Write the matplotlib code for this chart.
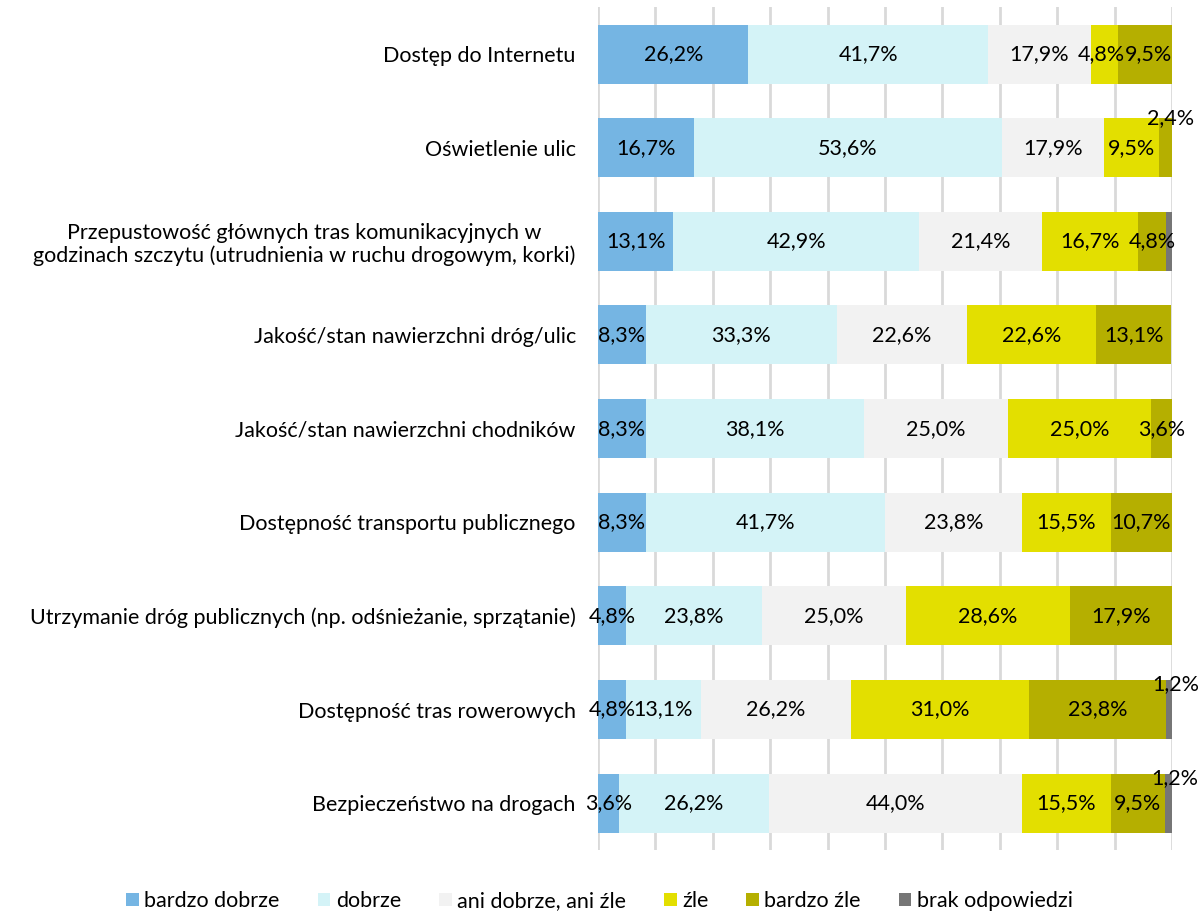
import matplotlib.pyplot as plt
import numpy as np

plt.rcParams['font.family'] = ['Lato', 'DejaVu Sans']

categories = [
    'Dostęp do Internetu',
    'Oświetlenie ulic',
    'Przepustowość głównych tras komunikacyjnych w\ngodzinach szczytu (utrudnienia w ruchu drogowym, korki)',
    'Jakość/stan nawierzchni dróg/ulic',
    'Jakość/stan nawierzchni chodników',
    'Dostępność transportu publicznego',
    'Utrzymanie dróg publicznych (np. odśnieżanie, sprzątanie)',
    'Dostępność tras rowerowych',
    'Bezpieczeństwo na drogach',
]
series = ['bardzo dobrze', 'dobrze', 'ani dobrze, ani źle', 'źle', 'bardzo źle', 'brak odpowiedzi']

bardzo_dobrze = [26.2, 16.7, 13.1, 8.3, 8.3, 8.3, 4.8, 4.8, 3.6]
dobrze = [41.7, 53.6, 42.9, 33.3, 38.1, 41.7, 23.8, 13.1, 26.2]
ani = [17.9, 17.9, 21.4, 22.6, 25.0, 23.8, 25.0, 26.2, 44.0]
zle = [4.8, 9.5, 16.7, 22.6, 25.0, 15.5, 28.6, 31.0, 15.5]
bardzo_zle = [9.5, 2.4, 4.8, 13.1, 3.6, 10.7, 17.9, 23.8, 9.5]
brak = [0.0, 0.0, 1.2, 0.0, 0.0, 0.0, 0.0, 1.2, 1.2]

colors = ['#75B5E3', '#D4F3F7', '#F2F2F2', '#E3DF00', '#B5AF00', '#767676']

values = np.array([bardzo_dobrze, dobrze, ani, zle, bardzo_zle, brak])

FS = 15.5

# labels of thin segments are nudged aside (points)
label_offsets = {(0, 3): (-2, 0), (0, 4): (2, 0), (1, 4): (3.6, 21.5),
                 (7, 5): (4.5, 18), (8, 5): (4.5, 18)}
hidden_labels = {(2, 5)}

fig = plt.figure(figsize=(11.99, 9.14), dpi=100)
ax = fig.add_axes([0.4988, 0.070, 0.4787, 0.9221])

y = np.arange(len(categories))
left = np.zeros(len(categories))
for s, (name, col) in enumerate(zip(series, colors)):
    vals = values[s]
    ax.barh(y, vals, left=left, height=0.63, color=col, label=name, zorder=2)
    for i, v in enumerate(vals):
        if v == 0 or (i, s) in hidden_labels:
            continue
        txt = f'{v:.1f}'.replace('.', ',') + '%'
        cx = left[i] + v / 2
        off = label_offsets.get((i, s), (0, 0))
        ax.annotate(txt, (cx, y[i]), xytext=off, textcoords='offset points',
                    ha='center', va='center', fontsize=FS, color='#000000',
                    zorder=4, annotation_clip=False)
    left += vals

ax.set_xlim(0, 100)
ax.set_ylim(len(categories) - 0.5, -0.5)
ax.set_xticks(np.arange(0, 101, 10))
ax.xaxis.grid(True, color='#D9D9D9', linewidth=2, zorder=0)
ax.set_axisbelow(True)
ax.tick_params(axis='x', length=0, labelbottom=False)
ax.tick_params(axis='y', length=0, pad=16)
ax.set_yticks(y)
ax.set_yticklabels(categories, fontsize=FS, multialignment='center', linespacing=1.15)
for sp in ax.spines.values():
    sp.set_visible(False)

fig.legend(loc='lower center', bbox_to_anchor=(0.5, -0.018), ncol=6, frameon=False,
           fontsize=FS, handlelength=0.6, handleheight=0.6, handletextpad=0.25,
           columnspacing=1.75)

fig.savefig('out.png', dpi=100)
